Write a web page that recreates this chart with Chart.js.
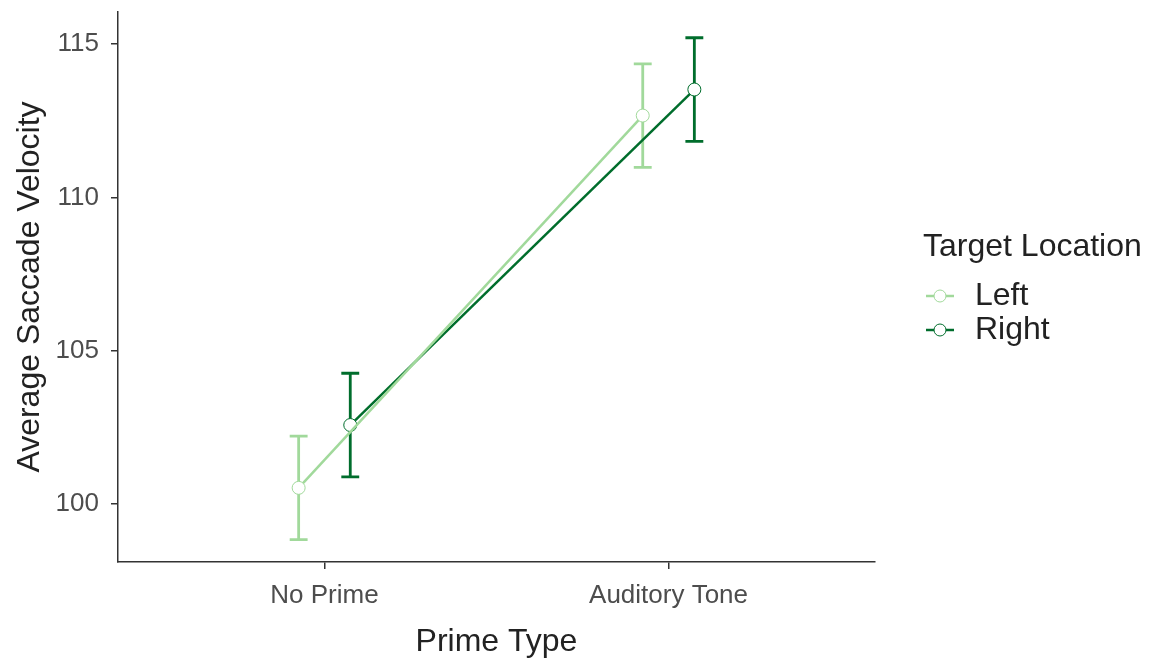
<!DOCTYPE html>
<html>
<head>
<meta charset="utf-8">
<script src="https://cdn.jsdelivr.net/npm/chart.js@4"></script>
<style>
  html, body { margin: 0; padding: 0; background: #fff; }
  #wrap { width: 1154px; height: 661px; position: relative; }
</style>
</head>
<body>
<div id="wrap"><canvas id="chart"></canvas></div>
<script>
// data
const categories = ["No Prime", "Auditory Tone"];
const seriesNames = ["Left", "Right"];
const leftMeans = [100.52, 112.67];
const leftErr = [1.69, 1.69];
const rightMeans = [102.57, 113.52];
const rightErr = [1.69, 1.69];
const yTicks = [100, 105, 110, 115];

const colors = ["#a1d99b", "#006d2c"];
const dodge = [-0.075, 0.075];
const FONT = '"Liberation Sans", Arial, sans-serif';

function toPoints(means, errs, k) {
  return means.map((m, i) => ({ x: i + 1 + dodge[k], y: m, lo: m - errs[i], hi: m + errs[i] }));
}

// error bars drawn under the lines, ggplot style
const errorBars = {
  id: 'errorBars',
  beforeDatasetsDraw(chart) {
    const { ctx, scales } = chart;
    const xs = scales.x, ys = scales.y;
    chart.data.datasets.forEach(ds => {
      ctx.save();
      ctx.strokeStyle = ds.borderColor;
      ctx.lineWidth = 2.8;
      ds.data.forEach(p => {
        const x = xs.getPixelForValue(p.x);
        const x0 = xs.getPixelForValue(p.x - 0.026);
        const x1 = xs.getPixelForValue(p.x + 0.026);
        const yl = ys.getPixelForValue(p.lo);
        const yh = ys.getPixelForValue(p.hi);
        ctx.beginPath();
        ctx.moveTo(x, yl); ctx.lineTo(x, yh);
        ctx.moveTo(x0, yl); ctx.lineTo(x1, yl);
        ctx.moveTo(x0, yh); ctx.lineTo(x1, yh);
        ctx.stroke();
      });
      ctx.restore();
    });
  }
};

// legend on the right
const sideLegend = {
  id: 'sideLegend',
  afterDraw(chart) {
    const ctx = chart.ctx;
    ctx.save();
    ctx.fillStyle = '#222';
    ctx.font = '32px ' + FONT;
    ctx.textBaseline = 'middle';
    ctx.textAlign = 'left';
    ctx.fillText('Target Location', 923, 247);
    seriesNames.forEach((name, i) => {
      const y = 296 + i * 34;
      ctx.strokeStyle = colors[i];
      ctx.lineWidth = 2.5;
      ctx.beginPath();
      ctx.moveTo(926, y); ctx.lineTo(954, y);
      ctx.stroke();
      ctx.beginPath();
      ctx.arc(940, y, 6, 0, Math.PI * 2);
      ctx.fillStyle = '#fff';
      ctx.fill();
      ctx.lineWidth = 1;
      ctx.stroke();
      ctx.fillStyle = '#222';
      ctx.fillText(name, 975, y);
    });
    ctx.restore();
  }
};

const tickFont = { family: FONT, size: 26 };
const titleFont = { family: FONT, size: 32 };

new Chart(document.getElementById('chart'), {
  type: 'line',
  data: {
    datasets: [
      { label: seriesNames[0], data: toPoints(leftMeans, leftErr, 0) },
      { label: seriesNames[1], data: toPoints(rightMeans, rightErr, 1) }
    ].map((ds, k) => Object.assign(ds, {
      borderColor: colors[k],
      backgroundColor: '#fff',
      pointBackgroundColor: '#fff',
      pointBorderColor: colors[k],
      pointBorderWidth: 1,
      pointRadius: 6.5,
      borderWidth: 2.5,
      tension: 0
    }))
  },
  options: {
    responsive: true,
    maintainAspectRatio: false,
    animation: false,
    layout: { padding: { left: 0, right: 279, top: 12, bottom: 0 } },
    plugins: { legend: { display: false }, tooltip: { enabled: false } },
    scales: {
      x: {
        type: 'linear',
        min: 0.4,
        max: 2.6,
        afterBuildTicks(scale) { scale.ticks = categories.map((c, i) => ({ value: i + 1 })); },
        afterFit(scale) {
          scale.height = 99;
          scale.paddingLeft = 0; scale.paddingRight = 0;
        },
        ticks: {
          callback: v => categories[v - 1],
          color: '#4d4d4d',
          font: tickFont,
          padding: 11,
          autoSkip: false,
          maxRotation: 0
        },
        grid: { drawOnChartArea: false, drawTicks: true, tickLength: 7, color: '#333', lineWidth: 1.5 },
        border: { display: true, color: '#333', width: 1.5 },
        title: { display: true, text: 'Prime Type', color: '#222', font: titleFont, padding: { top: 0, bottom: 0 } }
      },
      y: {
        min: 98.1,
        max: 116.05,
        afterBuildTicks(scale) { scale.ticks = yTicks.map(v => ({ value: v })); },
        afterFit(scale) {
          scale.width = 118;
          scale.paddingTop = 0; scale.paddingBottom = 0;
        },
        ticks: { color: '#4d4d4d', font: tickFont, padding: 12 },
        grid: { drawOnChartArea: false, drawTicks: true, tickLength: 7, color: '#333', lineWidth: 1.5 },
        border: { display: true, color: '#333', width: 1.5 },
        title: { display: true, text: 'Average Saccade Velocity', color: '#222', font: titleFont, padding: { top: 11, bottom: 0 } }
      }
    }
  },
  plugins: [errorBars, sideLegend]
});
</script>
</body>
</html>
